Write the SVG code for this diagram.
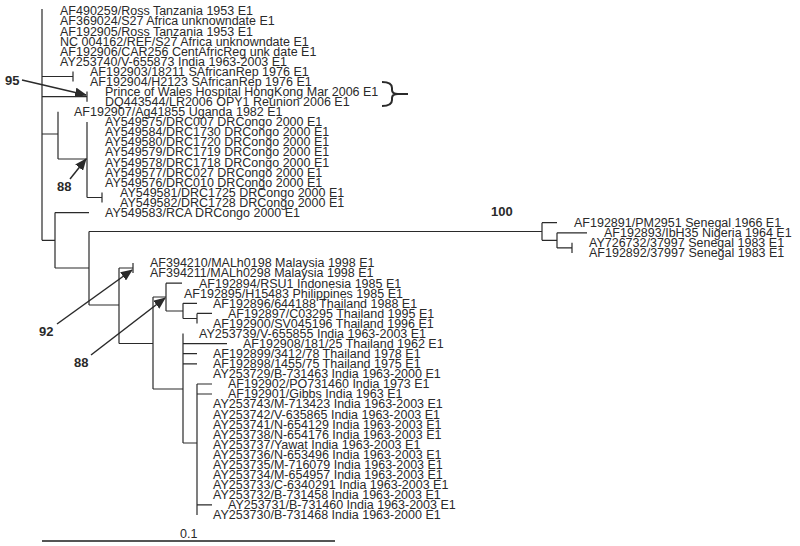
<svg xmlns="http://www.w3.org/2000/svg" width="800" height="546" viewBox="0 0 800 546">
<style>
.l{font-family:"Liberation Sans",Arial,sans-serif;font-size:12.5px;fill:#2a2a2a}
.b{font-family:"Liberation Sans",Arial,sans-serif;font-size:13px;font-weight:bold;fill:#2a2a2a}
.e{fill:none;stroke:#2a2a2a;stroke-width:1.2}
.a{fill:none;stroke:#2a2a2a;stroke-width:1.5}
</style>
<defs>
<marker id="ah" markerUnits="userSpaceOnUse" markerWidth="12" markerHeight="10" refX="11" refY="5" orient="auto">
<path d="M0,0 L12,5 L0,10 Z" fill="#2a2a2a"/>
</marker>
</defs>
<rect width="800" height="546" fill="#fff"/>
<g id="connectors">
<path class="e" d="M42,9 V240.3 M42,76.5 H73 M73,71.5 V81.6 M42,96.7 H87 M87,91.6 V101.7 M42,134 H58 M58,111.8 V159 M58,159 H87 M87,121.9 V197.5 M87,197.5 H102 M102,192.4 V202.5 M42,240.3 H55 M55,212.6 V268 M55,212.6 H89 M55,268 H89 M89,231.5 V305 M89,231.5 H542 M542,222.7 V240.3 M542,222.7 H557 M542,240.3 H557 M557,232.8 V247.9 M557,232.8 H587 M557,247.9 H572 M572,242.8 V252.9 M89,305 H119 M119,268 V343.5 M119,268 H133 M133,263 V273.1 M119,343.5 H153 M153,297 V389 M153,297 H166 M166,283.2 V311 M166,283.2 H182 M166,311 H183 M183,303.3 V318.5 M183,303.3 H197 M183,318.5 H197 M197,313.4 V323.5 M197,313.4 H212 M153,389 H183 M183,333.6 V443 M183,343.6 H227 M183,353.7 H197 M183,363.8 H197 M183,443 H197 M197,384 V515 M197,384 H212 M197,394 H212 M197,504.9 H212"/>
<path class="a" d="M22,80 L86,95" marker-end="url(#ah)"/>
<path class="a" d="M70,179 L86,159" marker-end="url(#ah)"/>
<path class="a" d="M57,324 L132,270" marker-end="url(#ah)"/>
<path class="a" d="M91,355 L165,298" marker-end="url(#ah)"/>
<path d="M382,82 Q392,82 392,88 L392,90 Q392,94 398,94 L408,94 M398,94 Q392,94 392,98 L392,100 Q392,106 382,106" fill="none" stroke="#2a2a2a" stroke-width="2"/>
<path d="M42,541 H335" stroke="#555" stroke-width="2"/>
</g>
<g id="annotations">
<text class="b" x="5" y="85">95</text>
<text class="b" x="57" y="191">88</text>
<text class="b" x="39" y="336">92</text>
<text class="b" x="74" y="367">88</text>
<text class="b" x="491" y="216">100</text>
<text class="l" x="180" y="538">0.1</text>
</g>
<g id="n1"><text class="l" x="60" y="15.3">AF490259/Ross Tanzania 1953 E1</text></g>
<g id="n2"><text class="l" x="60" y="25.4">AF369024/S27 Africa unknowndate E1</text></g>
<g id="n3"><text class="l" x="60" y="35.5">AF192905/Ross Tanzania 1953 E1</text></g>
<g id="n4"><text class="l" x="60" y="45.5">NC 004162/REF/S27 Africa unknowndate E1</text></g>
<g id="n5"><text class="l" x="60" y="55.6">AF192906/CAR256 CentAfricReg unk date E1</text></g>
<g id="n6"><text class="l" x="60" y="65.7">AY253740/V-655873 India 1963-2003 E1</text></g>
<g id="n7"><text class="l" x="90" y="75.8">AF192903/18211 SAfricanRep 1976 E1</text></g>
<g id="n8"><text class="l" x="90" y="85.9">AF192904/H2123 SAfricanRep 1976 E1</text></g>
<g id="n9"><text class="l" x="105" y="95.9">Prince of Wales Hospital HongKong Mar 2006 E1</text></g>
<g id="n10"><text class="l" x="105" y="106">DQ443544/LR2006 OPY1 Reunion 2006 E1</text></g>
<g id="n11"><text class="l" x="74" y="116.1">AF192907/Ag41855 Uganda 1982 E1</text></g>
<g id="n12"><text class="l" x="105" y="126.2">AY549575/DRC007 DRCongo 2000 E1</text></g>
<g id="n13"><text class="l" x="105" y="136.3">AY549584/DRC1730 DRCongo 2000 E1</text></g>
<g id="n14"><text class="l" x="105" y="146.3">AY549580/DRC1720 DRCongo 2000 E1</text></g>
<g id="n15"><text class="l" x="105" y="156.4">AY549579/DRC1719 DRCongo 2000 E1</text></g>
<g id="n16"><text class="l" x="105" y="166.5">AY549578/DRC1718 DRCongo 2000 E1</text></g>
<g id="n17"><text class="l" x="105" y="176.6">AY549577/DRC027 DRCongo 2000 E1</text></g>
<g id="n18"><text class="l" x="105" y="186.7">AY549576/DRC010 DRCongo 2000 E1</text></g>
<g id="n19"><text class="l" x="120" y="196.7">AY549581/DRC1725 DRCongo 2000 E1</text></g>
<g id="n20"><text class="l" x="120" y="206.8">AY549582/DRC1728 DRCongo 2000 E1</text></g>
<g id="n21"><text class="l" x="105" y="216.9">AY549583/RCA DRCongo 2000 E1</text></g>
<g id="n22"><text class="l" x="574" y="227">AF192891/PM2951 Senegal 1966 E1</text></g>
<g id="n23"><text class="l" x="604" y="237.1">AF192893/IbH35 Nigeria 1964 E1</text></g>
<g id="n24"><text class="l" x="589" y="247.1">AY726732/37997 Senegal 1983 E1</text></g>
<g id="n25"><text class="l" x="589" y="257.2">AF192892/37997 Senegal 1983 E1</text></g>
<g id="n26"><text class="l" x="150" y="267.3">AF394210/MALh0198 Malaysia 1998 E1</text></g>
<g id="n27"><text class="l" x="150" y="277.4">AF394211/MALh0298 Malaysia 1998 E1</text></g>
<g id="n28"><text class="l" x="199" y="287.5">AF192894/RSU1 Indonesia 1985 E1</text></g>
<g id="n29"><text class="l" x="184" y="297.5">AF192895/H15483 Philippines 1985 E1</text></g>
<g id="n30"><text class="l" x="213" y="307.6">AF192896/644188 Thailand 1988 E1</text></g>
<g id="n31"><text class="l" x="228" y="317.7">AF192897/C03295 Thailand 1995 E1</text></g>
<g id="n32"><text class="l" x="213" y="327.8">AF192900/SV045196 Thailand 1996 E1</text></g>
<g id="n33"><text class="l" x="199" y="337.9">AY253739/V-655855 India 1963-2003 E1</text></g>
<g id="n34"><text class="l" x="243" y="347.9">AF192908/181/25 Thailand 1962 E1</text></g>
<g id="n35"><text class="l" x="213" y="358">AF192899/3412/78 Thailand 1978 E1</text></g>
<g id="n36"><text class="l" x="213" y="368.1">AF192898/1455/75 Thailand 1975 E1</text></g>
<g id="n37"><text class="l" x="213" y="378.2">AY253729/B-731463 India 1963-2000 E1</text></g>
<g id="n38"><text class="l" x="228" y="388.3">AF192902/PO731460 India 1973 E1</text></g>
<g id="n39"><text class="l" x="228" y="398.3">AF192901/Gibbs India 1963 E1</text></g>
<g id="n40"><text class="l" x="213" y="408.4">AY253743/M-713423 India 1963-2003 E1</text></g>
<g id="n41"><text class="l" x="213" y="418.5">AY253742/V-635865 India 1963-2003 E1</text></g>
<g id="n42"><text class="l" x="213" y="428.6">AY253741/N-654129 India 1963-2003 E1</text></g>
<g id="n43"><text class="l" x="213" y="438.7">AY253738/N-654176 India 1963-2003 E1</text></g>
<g id="n44"><text class="l" x="213" y="448.7">AY253737/Yawat India 1963-2003 E1</text></g>
<g id="n45"><text class="l" x="213" y="458.8">AY253736/N-653496 India 1963-2003 E1</text></g>
<g id="n46"><text class="l" x="213" y="468.9">AY253735/M-716079 India 1963-2003 E1</text></g>
<g id="n47"><text class="l" x="213" y="479">AY253734/M-654957 India 1963-2003 E1</text></g>
<g id="n48"><text class="l" x="213" y="489.1">AY253733/C-6340291 India 1963-2003 E1</text></g>
<g id="n49"><text class="l" x="213" y="499.1">AY253732/B-731458 India 1963-2003 E1</text></g>
<g id="n50"><text class="l" x="228" y="509.2">AY253731/B-731460 India 1963-2003 E1</text></g>
<g id="n51"><text class="l" x="213" y="519.3">AY253730/B-731468 India 1963-2000 E1</text></g>
</svg>
